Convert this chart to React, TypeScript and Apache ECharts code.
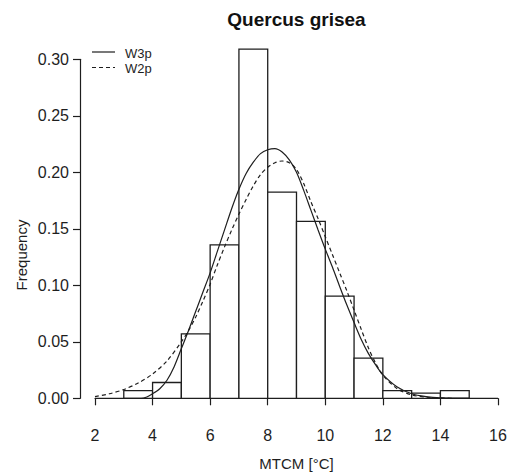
import React, { useEffect, useRef } from "react";
import * as echarts from "echarts";

// Histogram bins (left edge) and relative frequencies
const binStarts = [3, 4, 5, 6, 7, 8, 9, 10, 11, 12, 13, 14];
const binWidth = 1;
const binFreq = [0.0068, 0.014, 0.057, 0.1358, 0.309, 0.1825, 0.1565, 0.0905, 0.0355, 0.0068, 0.0045, 0.0068];

// Fitted densities: [MTCM, density]
const w3p: [number, number][] = [
  [2, 0], [3.0, 0], [3.6, 0], [3.8, 0.0012], [4.0, 0.004], [4.25, 0.0085], [4.5, 0.016],
  [4.75, 0.028], [5.0, 0.044], [5.25, 0.06], [5.5, 0.077], [5.75, 0.094], [6.0, 0.111],
  [6.25, 0.13], [6.5, 0.149], [6.75, 0.168], [7.0, 0.185], [7.25, 0.199], [7.5, 0.209],
  [7.75, 0.2165], [8.0, 0.22], [8.25, 0.221], [8.5, 0.218], [8.75, 0.211], [9.0, 0.2],
  [9.25, 0.184], [9.5, 0.1665], [9.75, 0.149], [10.0, 0.132], [10.25, 0.116], [10.5, 0.099],
  [10.75, 0.0825], [11.0, 0.067], [11.25, 0.052], [11.5, 0.0395], [11.75, 0.0295], [12.0, 0.021],
  [12.5, 0.01], [13.0, 0.004], [13.5, 0.0015], [14.0, 0.0005], [15.0, 0.0001], [16, 0],
];
const w2p: [number, number][] = [
  [2, 0.0015], [2.5, 0.004], [3.0, 0.0078], [3.5, 0.0135], [4.0, 0.0215], [4.5, 0.033],
  [5.0, 0.05], [5.25, 0.06], [5.5, 0.072], [5.75, 0.086], [6.0, 0.101], [6.25, 0.118],
  [6.5, 0.134], [6.75, 0.149], [7.0, 0.163], [7.25, 0.176], [7.5, 0.188], [7.75, 0.198],
  [8.0, 0.2045], [8.25, 0.2085], [8.5, 0.21], [8.75, 0.2085], [9.0, 0.2025], [9.25, 0.19],
  [9.5, 0.174], [9.75, 0.159], [10.0, 0.143], [10.25, 0.127], [10.5, 0.111], [10.75, 0.095],
  [11.0, 0.078], [11.25, 0.061], [11.5, 0.0445], [11.75, 0.031], [12.0, 0.0205], [12.5, 0.0085],
  [13.0, 0.003], [13.5, 0.001], [14.0, 0.0003], [14.5, 0],
];

const titleText = "Quercus grisea";
const xName = "MTCM [°C]";
const yName = "Frequency";
const legendNames = ["W3p", "W2p"];

const FONT = "'Liberation Sans', Arial, Helvetica, sans-serif";
const INK = "#1e1e1e";

export default function App() {
  const ref = useRef<HTMLDivElement>(null);
  useEffect(() => {
    if (!ref.current) return;
    const chart = echarts.init(ref.current, undefined, { renderer: "svg" });
    const histData = binStarts.map((s, i) => [s, s + binWidth, binFreq[i]]);
    chart.setOption({
      animation: false,
      backgroundColor: "#ffffff",
      grid: { left: 95, right: 15, top: 59.3, bottom: 74.7, outerBoundsMode: "none" },
      xAxis: {
        type: "value",
        min: 2,
        max: 16,
        interval: 2,
        offset: 14.7,
        axisLine: { show: true, lineStyle: { color: INK, width: 1.2 } },
        axisTick: { show: true, length: 7, inside: false, lineStyle: { color: INK, width: 1.2 } },
        axisLabel: { color: INK, fontSize: 16, fontFamily: FONT, margin: 14 },
        splitLine: { show: false },
      },
      yAxis: {
        type: "value",
        min: 0,
        max: 0.3,
        interval: 0.05,
        offset: 15,
        axisLine: { show: true, lineStyle: { color: INK, width: 1.2 } },
        axisTick: { show: true, length: 7, inside: false, lineStyle: { color: INK, width: 1.2 } },
        axisLabel: {
          color: INK,
          fontSize: 16,
          fontFamily: FONT,
          margin: 11,
          formatter: (v: number) => v.toFixed(2),
        },
        splitLine: { show: false },
      },
      series: [
        {
          type: "custom",
          name: "histogram",
          clip: false,
          data: histData,
          encode: { x: [0, 1], y: 2 },
          renderItem: (params: any, api: any) => {
            const p0 = api.coord([api.value(0), 0]);
            const p1 = api.coord([api.value(1), api.value(2)]);
            return {
              type: "rect",
              shape: { x: p0[0], y: p1[1], width: p1[0] - p0[0], height: p0[1] - p1[1] },
              style: { fill: "#ffffff", stroke: INK, lineWidth: 1.3 },
            };
          },
          z: 1,
        },
        {
          type: "line",
          name: legendNames[0],
          data: w3p,
          symbol: "none",
          smooth: 0.3,
          clip: false,
          lineStyle: { color: INK, width: 1.2, type: "solid" },
          z: 3,
        },
        {
          type: "line",
          name: legendNames[1],
          data: w2p,
          symbol: "none",
          smooth: 0.3,
          clip: false,
          lineStyle: { color: INK, width: 1.2, type: [4, 3] },
          z: 3,
        },
      ],
      graphic: [
        {
          type: "text",
          x: 296.5,
          y: 19,
          style: {
            text: titleText,
            font: `bold 19px ${FONT}`,
            fill: "#111",
            textAlign: "center",
            textVerticalAlign: "middle",
          },
        },
        {
          type: "text",
          x: 296.5,
          y: 463,
          style: {
            text: xName,
            font: `15px ${FONT}`,
            fill: INK,
            textAlign: "center",
            textVerticalAlign: "middle",
          },
        },
        {
          type: "text",
          x: 21,
          y: 255,
          rotation: Math.PI / 2,
          style: {
            text: yName,
            font: `15px ${FONT}`,
            fill: INK,
            textAlign: "center",
            textVerticalAlign: "middle",
          },
        },
        {
          type: "line",
          shape: { x1: 92, y1: 52, x2: 115, y2: 52 },
          style: { stroke: INK, lineWidth: 1.2 },
        },
        {
          type: "line",
          shape: { x1: 92, y1: 67.5, x2: 115, y2: 67.5 },
          style: { stroke: INK, lineWidth: 1.2, lineDash: [4, 3] },
        },
        {
          type: "text",
          x: 125,
          y: 53,
          style: { text: legendNames[0], font: `13px ${FONT}`, fill: INK, textVerticalAlign: "middle" },
        },
        {
          type: "text",
          x: 125,
          y: 68,
          style: { text: legendNames[1], font: `13px ${FONT}`, fill: INK, textVerticalAlign: "middle" },
        },
      ],
    });
    return () => chart.dispose();
  }, []);
  return (
    <div
      ref={ref}
      style={{ position: "fixed", left: 0, top: 0, width: 513, height: 473, background: "#fff" }}
    />
  );
}
